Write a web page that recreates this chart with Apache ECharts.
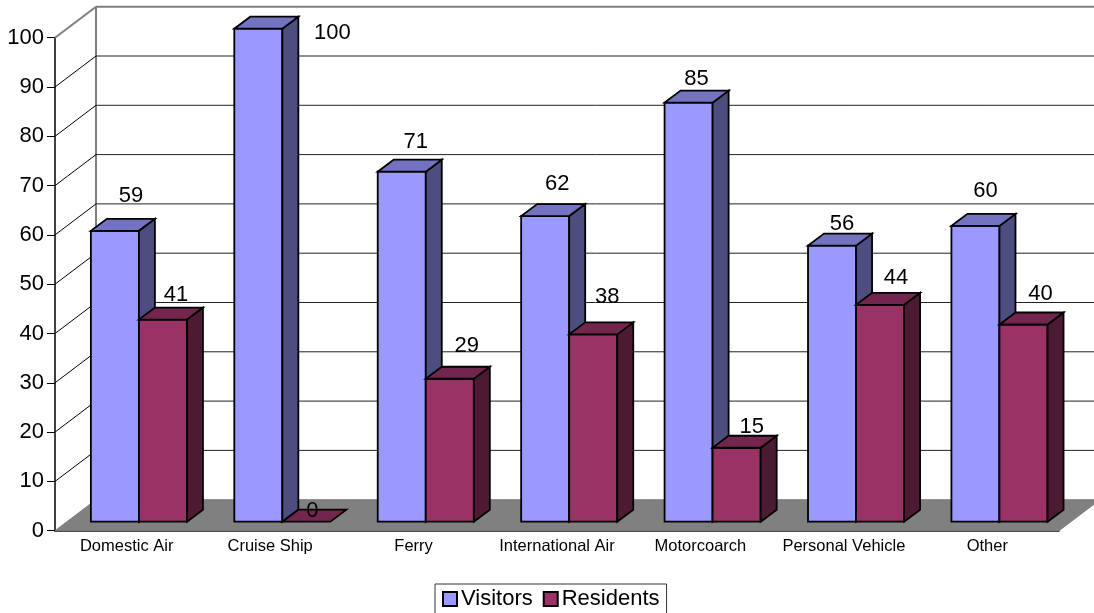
<!DOCTYPE html>
<html><head><meta charset="utf-8">
<style>html,body{margin:0;padding:0;background:#fff;overflow:hidden}#c{width:1094px;height:613px}</style>
<script src="https://cdn.jsdelivr.net/npm/echarts@6/dist/echarts.min.js"></script>
</head><body><div id="c"></div>
<script>
const categories = ['Domestic Air','Cruise Ship','Ferry','International Air','Motorcoarch','Personal Vehicle','Other'];
const visitors = [59,100,71,62,85,56,60];
const residents = [41,0,29,38,15,44,40];
const yTicks = [0,10,20,30,40,50,60,70,80,90,100];

// drawing style (3D projection and label nudges, in pixels)
const WALL_DX = 41, WALL_DY = 31, BAR_DX = 16, BAR_DY = 12, FLOOR_DX = 12.2, FLOOR_DY = 9;
const visitorNudge = [[16,-35],[74,4],[14,-30],[12,-32],[8,-24],[10,-22],[10,-35]];
const residentNudge = [[13,-25],[6,-11],[17,-33],[14,-37],[15,-21],[16,-27],[17,-31]];
const FONT = 'Liberation Sans, Arial, sans-serif';

function poly(points, fill, stroke, lw){
  return {type:'polygon', shape:{points}, style:{fill, stroke, lineWidth:lw}};
}
function line(x1,y1,x2,y2,stroke,lw){
  return {type:'line', shape:{x1,y1,x2,y2}, style:{stroke, lineWidth:lw}};
}
function backdrop(params, api){
  const g = params.coordSys;
  const v = api.value(0);
  const y = api.coord([0, v])[1];
  const L = g.x, R = g.x + g.width;
  const els = [];
  if (v === 0) {
    els.push(poly([[L,y],[L+WALL_DX,y-WALL_DY],[R+WALL_DX,y-WALL_DY],[R,y]],'#808080','#808080',1));
    els.push(line(L+WALL_DX,y-WALL_DY,L+WALL_DX,g.y-WALL_DY,'#808080',2));
  } else {
    const top = v === 100;
    els.push(line(L,y,L+WALL_DX,y-WALL_DY, top?'#808080':'#000',top?2:1));
    els.push(line(L+WALL_DX,y-WALL_DY,R+WALL_DX,y-WALL_DY, top?'#808080':'#222',top?2:1));
  }
  return {type:'group', children:els};
}
function bars(front, top, side, vals, nudge, shift){
  return function(params, api){
    const i = api.value(0), v = api.value(1);
    const band = api.size([1,0])[0];
    const base = api.coord([i,0]), head = api.coord([i,v]);
    const w = band * 0.335;
    const x0 = base[0] + FLOOR_DX + (shift - 1) * w;
    const x1 = x0 + w;
    const yb = base[1] - FLOOR_DY, yt = head[1] - FLOOR_DY;
    const K = '#000', LW = 1.8;
    const kids = [];
    if (v > 0) {
      kids.push(poly([[x0,yb],[x1,yb],[x1,yt],[x0,yt]],front,K,LW));
      kids.push(poly([[x1,yb],[x1+BAR_DX,yb-BAR_DY],[x1+BAR_DX,yt-BAR_DY],[x1,yt]],side,K,LW));
    }
    kids.push(poly([[x0,yt],[x1,yt],[x1+BAR_DX,yt-BAR_DY],[x0+BAR_DX,yt-BAR_DY]],top,K,LW));
    const cx = (x0+x1)/2 + nudge[i][0], cy = yt + nudge[i][1];
    kids.push({type:'text', z2:50, style:{text:String(v), x:cx, y:cy, align:'center', verticalAlign:'middle',
      fontFamily:FONT, fontSize:22, fill:'#000'}});
    return {type:'group', children:kids};
  };
}
const chart = echarts.init(document.getElementById('c'), null, {renderer:'canvas'});
chart.setOption({
  animation:false,
  backgroundColor:'#fff',
  grid:{left:55, right:35, top:37.7, height:493, containLabel:false},
  legend:{left:435, top:584, orient:'horizontal', data:['Visitors','Residents'],
    icon:'rect', itemWidth:14, itemHeight:14, itemGap:10,
    borderColor:'#333', borderWidth:1, padding:[4,7,6,7],
    textStyle:{fontFamily:FONT,fontSize:22,color:'#000',padding:[0,0,0,-1]}},
  xAxis:{type:'category', data:categories,
    axisLine:{lineStyle:{color:'#000',width:1.5}}, axisTick:{show:false},
    axisLabel:{fontFamily:FONT,fontSize:16.5,color:'#000',margin:7,interval:0}},
  yAxis:{type:'value', min:0, max:100, interval:10,
    axisLine:{show:true,lineStyle:{color:'#000',width:1.5}},
    axisTick:{show:true,length:8,lineStyle:{color:'#000',width:1}},
    splitLine:{show:false},
    axisLabel:{fontFamily:FONT,fontSize:22,color:'#000',margin:11}},
  series:[
    {type:'custom', name:'backdrop', silent:true, z:1, clip:false, renderItem:backdrop,
      data:yTicks.map(t=>[t]), encode:{y:0}},
    {type:'custom', name:'Visitors', z:2, clip:false, itemStyle:{color:'#9999FF',borderColor:'#000',borderWidth:2},
      renderItem:bars('#9999FF','#7373BF','#4D4D80',visitors,visitorNudge,0),
      data:visitors.map((v,i)=>[i,v]), encode:{x:0,y:1}},
    {type:'custom', name:'Residents', z:3, clip:false, itemStyle:{color:'#993366',borderColor:'#000',borderWidth:2},
      renderItem:bars('#993366','#73264D','#4D1A33',residents,residentNudge,1),
      data:residents.map((v,i)=>[i,v]), encode:{x:0,y:1}}
  ]
});
</script></body></html>
